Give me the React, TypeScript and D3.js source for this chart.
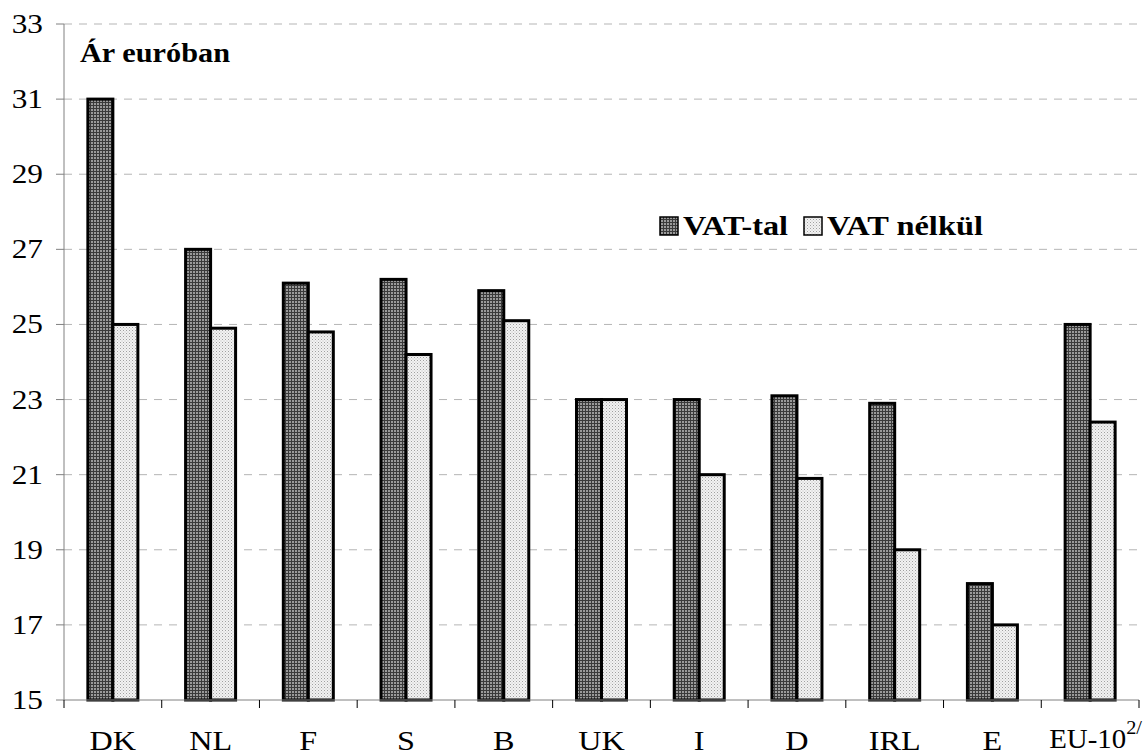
import React from "react";
import * as d3 from "d3";

const categories = ["DK", "NL", "F", "S", "B", "UK", "I", "D", "IRL", "E", "EU-10"];
const withVat = [31, 27, 26.1, 26.2, 25.9, 23, 23, 23.1, 22.9, 18.1, 25];
const withoutVat = [25, 24.9, 24.8, 24.2, 25.1, 23, 21, 20.9, 19, 17, 22.4];
const yTicks = [15, 17, 19, 21, 23, 25, 27, 29, 31, 33];
const seriesNames = ["VAT-tal", "VAT nélkül"];

const W = 1147, H = 756;
const left = 64, right = 1139, top = 24, bottom = 700;

function SText(props: { x: number; y: number; sx: number; children: React.ReactNode; [k: string]: any }) {
  const { x, y, sx, children, ...rest } = props;
  return (
    <g transform={`translate(${x},${y}) scale(${sx},1)`}>
      <text x={0} y={0} {...rest}>{children}</text>
    </g>
  );
}

export default function App() {
  const y = d3.scaleLinear().domain([15, 33]).range([bottom, top]);
  const x = d3.scaleBand<string>().domain(categories).range([left, right]).paddingInner(0).paddingOuter(0);
  const bw = 25;
  const font = "'Liberation Serif', 'Times New Roman', Times, serif";
  return (
    <svg width={W} height={H} style={{ position: "absolute", left: 0, top: 0, background: "#fff", fontFamily: font }}>
      <defs>
        <pattern id="dark" width="3" height="3" patternUnits="userSpaceOnUse">
          <rect width="3" height="3" fill="#9a9a9a" />
          <rect x="0" y="0" width="1" height="3" fill="#3a3a3a" />
          <rect x="0" y="0" width="3" height="1" fill="#3a3a3a" />
        </pattern>
        <pattern id="light" width="3" height="3" patternUnits="userSpaceOnUse">
          <rect width="3" height="3" fill="#f2f2f2" />
          <rect x="0" y="0" width="1" height="1" fill="#a0a0a0" />
          <rect x="1.5" y="1.5" width="1" height="1" fill="#c0c0c0" />
        </pattern>
      </defs>
      <rect width={W} height={H} fill="#fff" />
      {yTicks.map((t) => (
        <g key={t}>
          {t !== 15 && (
            <line x1={left} x2={right} y1={y(t)} y2={y(t)} stroke="#b5b5b5" strokeWidth={1} strokeDasharray="8,7" />
          )}
          <line x1={left - 8} x2={left} y1={y(t)} y2={y(t)} stroke="#808080" strokeWidth={1} />
          <SText x={43} y={y(t) + 9} sx={1.12} fontSize={28} textAnchor="end">{t}</SText>
        </g>
      ))}
      <line x1={left} x2={left} y1={top} y2={bottom} stroke="#808080" strokeWidth={1} />
      {categories.map((c, i) => {
        const cx = (x(c) as number) + x.bandwidth() / 2;
        return (
          <g key={c}>
            <rect x={cx - bw} y={y(withVat[i])} width={bw} height={bottom - y(withVat[i])} fill="url(#dark)" stroke="#000" strokeWidth={3} />
            <rect x={cx} y={y(withoutVat[i])} width={bw} height={bottom - y(withoutVat[i])} fill="url(#light)" stroke="#000" strokeWidth={3} />
            {c === "EU-10" ? (
              <SText x={cx - 41} y={748} sx={1.07} fontSize={27}>
                {c}
                <tspan dy={-14} fontSize={19}>2/</tspan>
              </SText>
            ) : (
              <SText x={cx} y={750} sx={1.15} fontSize={28} textAnchor="middle">{c}</SText>
            )}
          </g>
        );
      })}
      <line x1={left} x2={right} y1={bottom} y2={bottom} stroke="#808080" strokeWidth={1} />
      {categories.map((c) => (
        <line key={"t" + c} x1={x(c) as number} x2={x(c) as number} y1={bottom} y2={bottom + 8} stroke="#000" strokeWidth={1} />
      ))}
      <line x1={right} x2={right} y1={bottom} y2={bottom + 8} stroke="#000" strokeWidth={1} />
      <text x={80} y={62} fontSize={28} fontWeight="bold" textLength={150} lengthAdjust="spacingAndGlyphs">Ár euróban</text>
      <g>
        <rect x={660} y={217} width={18} height={18} fill="url(#dark)" stroke="#000" strokeWidth={1.5} />
        <text x={683} y={235} fontSize={28} fontWeight="bold" textLength={105} lengthAdjust="spacingAndGlyphs">{seriesNames[0]}</text>
        <rect x={804} y={217} width={18} height={18} fill="url(#light)" stroke="#000" strokeWidth={1.5} />
        <text x={827} y={235} fontSize={28} fontWeight="bold" textLength={156} lengthAdjust="spacingAndGlyphs">{seriesNames[1]}</text>
      </g>
    </svg>
  );
}
